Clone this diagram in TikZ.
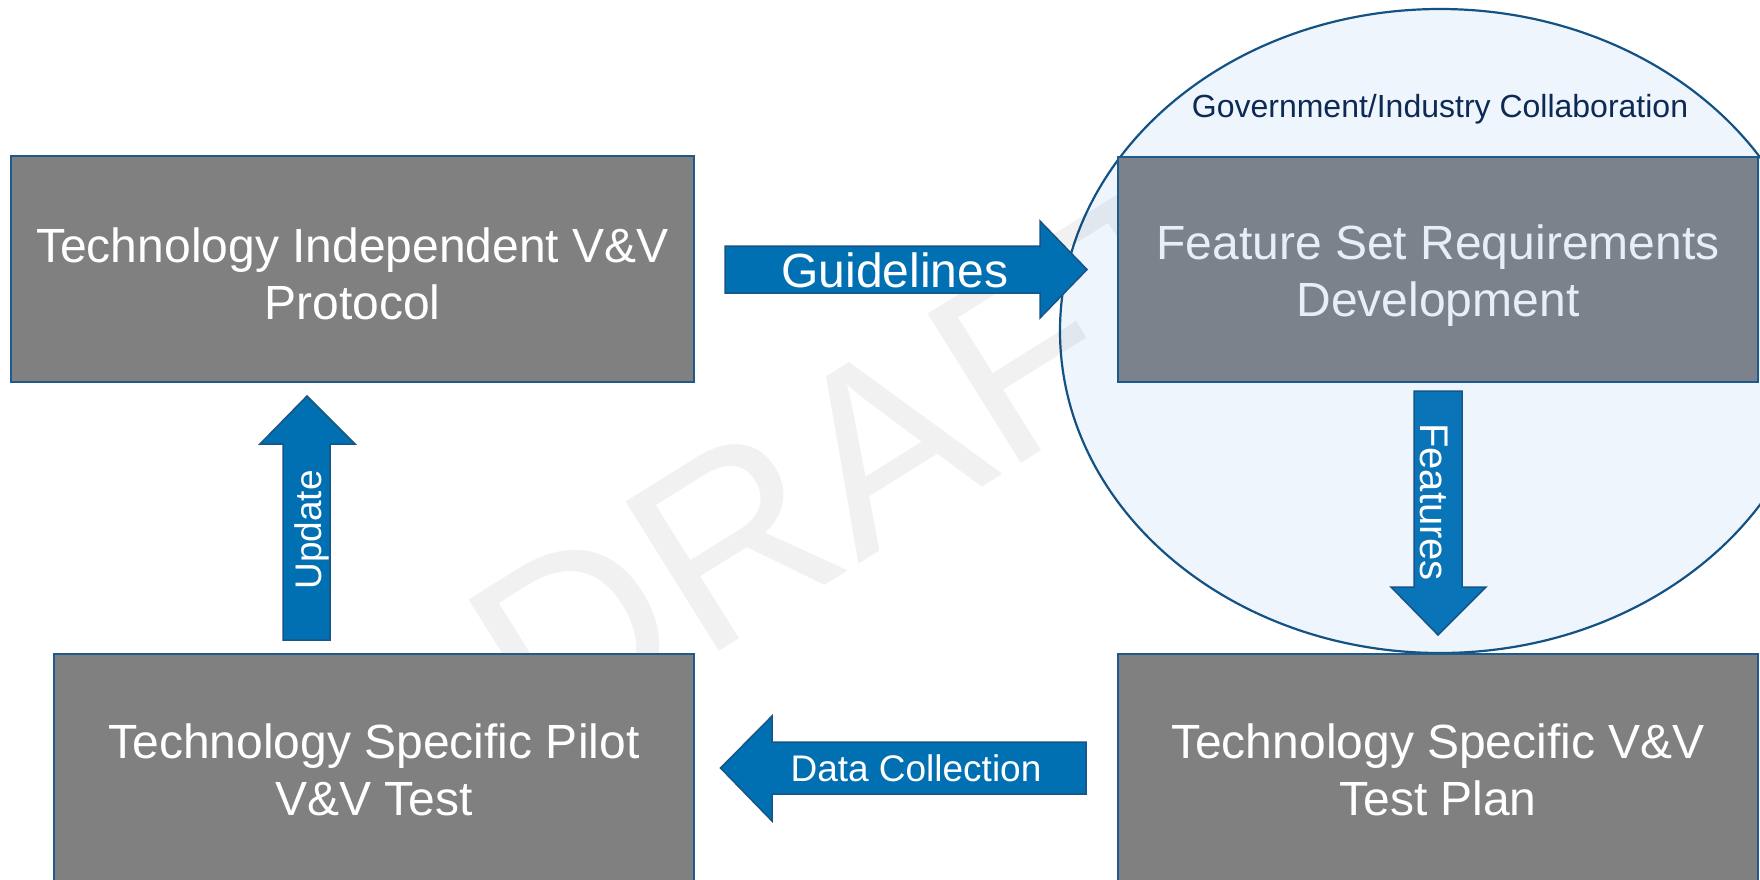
\documentclass[tikz,border=0pt]{standalone}
\usepackage{fontspec}
\setmainfont{Liberation Sans}
\definecolor{boxgray}{RGB}{128,128,128}
\definecolor{boxgraytint}{RGB}{123,130,139}
\definecolor{edgeblue}{RGB}{30,90,140}
\definecolor{arrowblue}{RGB}{0,112,178}
\definecolor{featblue}{RGB}{10,116,184}
\definecolor{arrowedge}{RGB}{24,84,134}
\definecolor{ovalfill}{RGB}{238,245,253}
\definecolor{ovaledge}{RGB}{20,82,132}
\definecolor{navytext}{RGB}{12,42,84}
\definecolor{paletext}{RGB}{232,238,246}

\begin{document}
\begin{tikzpicture}[x=1pt,y=-1pt,
  stagebox/.style={draw=edgeblue, line width=1.8pt, fill=boxgray, inner sep=0pt},
  stagetext/.style={inner sep=0pt, text=white, align=center, font=\fontsize{48}{57}\selectfont},
  blockarrow/.style={draw=arrowedge, line width=1.5pt, fill=arrowblue, line join=miter},
  arrowlabel/.style={text=white, font=\fontsize{37}{44}\selectfont, inner sep=0pt}
]
\useasboundingbox (0,0) rectangle (1760,879);
\clip (0,0) rectangle (1760,879);
\fill[white] (0,0) rectangle (1760,879);

% collaboration oval around the requirements stage
\draw[ovaledge, fill=ovalfill, line width=2.2pt] (1440,331) ellipse [x radius=380, y radius=322];
\node[navytext, font=\fontsize{32}{38}\selectfont, inner sep=0pt] (collab) at (1440,109)
  {Government/Industry Collaboration};

% watermark
\node[text=black, opacity=0.055, rotate=32, font=\fontsize{256}{300}\selectfont, inner sep=0pt]
  (wm) at (860,460) {DRAFT};

% the four stages
\node[stagebox, minimum width=683, minimum height=226] (indep) at (352.5,269) {};
\node[stagetext] (indeptext) at ([yshift=-4.5pt]indep.center)
  {Technology Independent V\&V\\Protocol};
\node[stagebox, fill=boxgraytint, minimum width=640, minimum height=225] (feat) at (1438,269.5) {};
\node[stagetext, text=paletext] (feattext) at ([yshift=-6.5pt]feat.center)
  {Feature Set Requirements\\Development};
\node[stagebox, minimum width=640, minimum height=229] (pilot) at (374,768.5) {};
\node[stagetext] (pilottext) at ([yshift=-1.5pt]pilot.center)
  {Technology Specific Pilot\\V\&V Test};
\node[stagebox, minimum width=640, minimum height=229] (plan) at (1438,768.5) {};
\node[stagetext] (plantext) at ([yshift=-1.5pt]plan.center)
  {Technology Specific V\&V\\Test Plan};

% block arrows between the stages
\draw[blockarrow] (725,246) -- (1040,246) -- (1040,221) -- (1087,269.5) -- (1040,318) -- (1040,293) -- (725,293) -- cycle;
\node[arrowlabel, font=\fontsize{48}{57}\selectfont] (guide) at (895,270) {Guidelines};

\draw[blockarrow, fill=featblue] (1414,391) -- (1462,391) -- (1462,587) -- (1486,587) -- (1438,635) -- (1391,587) -- (1414,587) -- cycle;
\node[arrowlabel, font=\fontsize{40}{48}\selectfont, rotate=-90] (featlbl) at (1434,502) {Features};

\draw[blockarrow] (1086,742) -- (772,742) -- (772,716) -- (720.5,768) -- (772,821) -- (772,794) -- (1086,794) -- cycle;
\node[arrowlabel] (data) at (916,768) {Data Collection};

\draw[blockarrow] (283,640) -- (283,444) -- (260,444) -- (307,396) -- (355,444) -- (330,444) -- (330,640) -- cycle;
\node[arrowlabel, rotate=90] (upd) at (312,530) {Update};
\end{tikzpicture}
\end{document}
